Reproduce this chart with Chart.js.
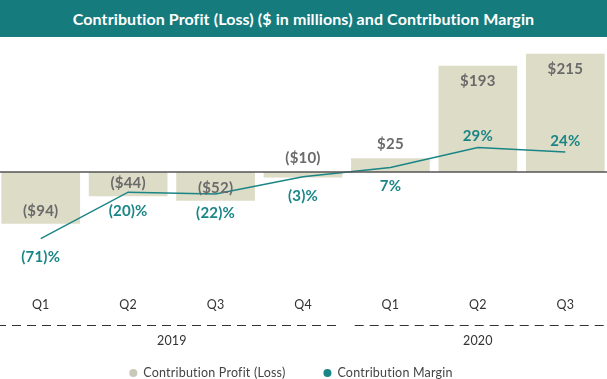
<!DOCTYPE html>
<html>
<head>
<meta charset="utf-8">
<script src="https://cdn.jsdelivr.net/npm/chart.js@4.4.1/dist/chart.umd.min.js"></script>
<style>
    html, body { margin: 0; padding: 0; background: #fff; overflow: hidden; }
    #title {
        width: 607px;
        height: 37px;
        line-height: 37px;
        background: #157b7d;
        color: #fff;
        font-family: Lato, sans-serif;
        font-weight: bold;
        font-size: 16px;
        font-variant-ligatures: none;
        letter-spacing: 0.1px;
        text-align: center;
    }
    #wrap { width: 612px; height: 342px; position: relative; margin-left: -3px; }
</style>
</head>
<body>
<div id="title">Contribution Profit (Loss) ($ in millions) and Contribution Margin</div>
<div id="wrap"><canvas id="profitChart"></canvas></div>
<script>
const quarters = ['Q1', 'Q2', 'Q3', 'Q4', 'Q1', 'Q2', 'Q3'];
const years = ['2019', '2020'];
const quartersPerYear = [4, 3];
const profit = [-94, -44, -52, -10, 25, 193, 215];
const margin = [-71, -20, -22, -3, 7, 29, 24];

const barColor = '#dcdcc7';
const lineColor = '#1a8586';

function fmtProfit(v) {
    return v < 0 ? '($' + Math.abs(v) + ')' : '$' + v;
}

function fmtMargin(v) {
    return v < 0 ? '(' + Math.abs(v) + ')%' : v + '%';
}

const labelsPlugin = {
    id: 'labelsPlugin',
    afterDatasetsDraw(chart) {
        const ctx = chart.ctx;
        const y = chart.scales.y;
        const x = chart.scales.x;
        const area = chart.chartArea;
        const zero = y.getPixelForValue(0);

        ctx.save();
        // zero line
        ctx.strokeStyle = '#555';
        ctx.lineWidth = 1.5;
        ctx.beginPath();
        ctx.moveTo(0, zero);
        ctx.lineTo(chart.width, zero);
        ctx.stroke();

        ctx.textAlign = 'center';
        ctx.textBaseline = 'middle';
        ctx.letterSpacing = '0.2px';

        // profit labels
        ctx.font = 'bold 15px Lato, sans-serif';
        ctx.fillStyle = '#6a6a6a';
        chart.getDatasetMeta(1).data.forEach((bar, i) => {
            const v = profit[i];
            let ly;
            if (Math.abs(v) <= 30) {
                ly = Math.min(bar.y, zero) - 14;
            } else if (v > 0) {
                ly = bar.y + 15;
            } else {
                ly = bar.y - 13;
            }
            ctx.fillText(fmtProfit(v), bar.x, ly);
        });

        // margin labels
        ctx.fillStyle = lineColor;
        chart.getDatasetMeta(0).data.forEach((pt, i) => {
            const v = margin[i];
            const ly = v >= 20 ? pt.y - 11 : pt.y + 19;
            ctx.fillText(fmtMargin(v), pt.x, ly);
        });

        // quarter ticks
        ctx.font = '12.5px Lato, sans-serif';
        ctx.fillStyle = '#333';
        quarters.forEach((q, i) => {
            ctx.fillText(q, x.getPixelForValue(i), area.bottom + 19);
        });

        // year dashed lines and labels
        const half = (x.getPixelForValue(1) - x.getPixelForValue(0)) / 2;
        let start = 0;
        ctx.setLineDash([9, 6]);
        ctx.lineWidth = 1;
        ctx.strokeStyle = '#333';
        years.forEach((yr, k) => {
            const end = start + quartersPerYear[k] - 1;
            const x0 = x.getPixelForValue(start) - half;
            const x1 = x.getPixelForValue(end) + half;
            const ly = area.bottom + 39.5;
            ctx.beginPath();
            ctx.moveTo(k === 0 ? x0 : x0 + 8, ly);
            ctx.lineTo(k === 0 ? x1 - 8 : x1, ly);
            ctx.stroke();
            ctx.fillText(yr, (x.getPixelForValue(start) + x.getPixelForValue(end)) / 2, area.bottom + 55);
            start = end + 1;
        });
        ctx.setLineDash([]);

        // legend
        const items = [
            { text: chart.data.datasets[1].label, color: '#c9c8ba' },
            { text: chart.data.datasets[0].label, color: lineColor }
        ];
        ctx.font = '12.5px Lato, sans-serif';
        ctx.textAlign = 'left';
        const gap = 38;
        const widths = items.map(it => 14 + ctx.measureText(it.text).width);
        const total = widths[0] + widths[1] + gap;
        let lx = (chart.width - total) / 2 - 12;
        const legY = area.bottom + 87;
        items.forEach((it, k) => {
            ctx.fillStyle = it.color;
            ctx.beginPath();
            ctx.arc(lx + 4, legY, 4, 0, Math.PI * 2);
            ctx.fill();
            ctx.fillStyle = '#444';
            ctx.fillText(it.text, lx + 14, legY);
            lx += widths[k] + gap;
        });
        ctx.restore();
    }
};

new Chart(document.getElementById('profitChart'), {
    type: 'bar',
    data: {
        labels: quarters,
        datasets: [
            {
                type: 'line',
                label: 'Contribution Margin',
                data: margin,
                yAxisID: 'y1',
                borderColor: lineColor,
                borderWidth: 1.5,
                pointRadius: 0,
                tension: 0,
                order: 0
            },
            {
                type: 'bar',
                label: 'Contribution Profit (Loss)',
                data: profit,
                yAxisID: 'y',
                backgroundColor: barColor,
                barPercentage: 0.9,
                categoryPercentage: 1,
                order: 1
            }
        ]
    },
    options: {
        responsive: true,
        maintainAspectRatio: false,
        animation: false,
        layout: { padding: { top: 4, bottom: 93, left: 0, right: 0 } },
        plugins: {
            legend: { display: false },
            tooltip: { enabled: false }
        },
        scales: {
            x: { display: false, offset: true },
            y: { display: false, min: -207, max: 238 },
            y1: { display: false, min: -123, max: 146 }
        }
    },
    plugins: [labelsPlugin]
});
</script>
</body>
</html>
